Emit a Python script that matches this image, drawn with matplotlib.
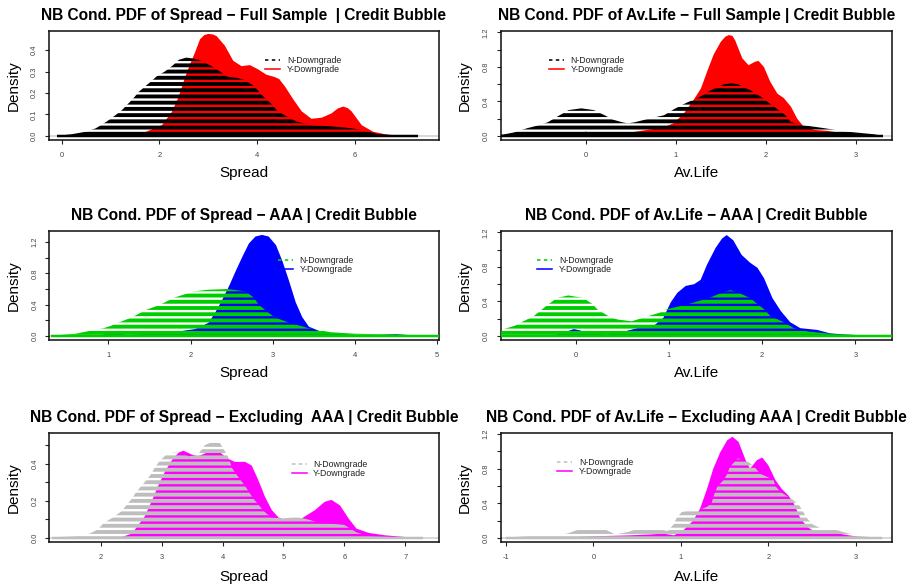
import matplotlib
matplotlib.use('Agg')
import matplotlib.pyplot as plt
from matplotlib.lines import Line2D

plt.rcParams['font.family'] = ['Liberation Sans', 'DejaVu Sans']
plt.rcParams['hatch.linewidth'] = 2.5

# ---------------- data ----------------
titles = [
    "NB Cond. PDF of Spread \u2212 Full Sample  | Credit Bubble",
    "NB Cond. PDF of Av.Life \u2212 Full Sample | Credit Bubble",
    "NB Cond. PDF of Spread \u2212 AAA | Credit Bubble",
    "NB Cond. PDF of Av.Life \u2212 AAA | Credit Bubble",
    "NB Cond. PDF of Spread \u2212 Excluding  AAA | Credit Bubble",
    "NB Cond. PDF of Av.Life \u2212 Excluding AAA | Credit Bubble",
]
xlabels = ["Spread", "Av.Life", "Spread", "Av.Life", "Spread", "Av.Life"]
legend_labels = ["N-Downgrade", "Y-Downgrade"]

# Panel 1: Spread, full sample
p1_n_x = [-0.1, 0.2, 0.5, 0.7, 0.92, 1.09, 1.23, 1.35, 1.47, 1.57, 1.70, 1.81, 1.94, 2.11, 2.28, 2.40, 2.55,
          2.70, 2.80, 3.03, 3.24, 3.40, 3.60, 3.75, 3.95, 4.06, 4.16, 4.30, 4.40, 4.57, 4.81, 5.10, 5.50, 5.93,
          6.20, 6.48, 6.90, 7.30]
p1_n_y = [0.0, 0.008, 0.02, 0.036, 0.067, 0.095, 0.12, 0.148, 0.176, 0.204, 0.23, 0.25, 0.277, 0.30, 0.33,
          0.355, 0.365, 0.36, 0.355, 0.33, 0.30, 0.275, 0.27, 0.26, 0.23, 0.20, 0.176, 0.148, 0.12, 0.095, 0.067,
          0.05, 0.045, 0.036, 0.025, 0.008, 0.003, 0.0]
p1_y_x = [0.05, 0.8, 1.36, 1.7, 2.05, 2.25, 2.39, 2.52, 2.62, 2.73, 2.83, 2.92, 3.0, 3.09, 3.17, 3.34, 3.51,
          3.68, 3.85, 4.02, 4.19, 4.35, 4.45, 4.57, 4.74, 4.91, 5.11, 5.32, 5.52, 5.65, 5.76, 5.85, 5.93, 6.14,
          6.37, 6.68, 7.09, 7.4]
p1_y_y = [0.0, 0.002, 0.005, 0.017, 0.05, 0.11, 0.18, 0.27, 0.33, 0.39, 0.45, 0.47, 0.475, 0.473, 0.465, 0.42,
          0.35, 0.325, 0.33, 0.31, 0.285, 0.275, 0.265, 0.23, 0.17, 0.115, 0.08, 0.085, 0.105, 0.128, 0.137,
          0.13, 0.115, 0.05, 0.02, 0.005, 0.001, 0.0]

# Panel 2: Av.Life, full sample
p2_n_x = [-0.95, -0.8, -0.65, -0.5, -0.42, -0.29, -0.19, -0.05, 0.09, 0.21, 0.3, 0.40, 0.47, 0.55, 0.7, 0.87,
          0.98, 1.11, 1.28, 1.39, 1.54, 1.62, 1.69, 1.83, 1.94, 2.04, 2.13, 2.22, 2.28, 2.45, 2.65, 2.9, 3.2, 3.3]
p2_n_y = [0.01, 0.04, 0.09, 0.13, 0.16, 0.24, 0.30, 0.32, 0.30, 0.24, 0.19, 0.16, 0.145, 0.16, 0.2, 0.24,
          0.31, 0.38, 0.46, 0.53, 0.6, 0.61, 0.6, 0.53, 0.46, 0.38, 0.31, 0.24, 0.16, 0.12, 0.09, 0.05, 0.02, 0.0]
p2_y_x = [-0.8, -0.3, -0.1, 0.0, 0.1, 0.31, 0.5, 0.68, 0.87, 0.98, 1.09, 1.2, 1.28, 1.35, 1.42, 1.5, 1.55,
          1.59, 1.63, 1.66, 1.74, 1.81, 1.88, 1.92, 1.98, 2.05, 2.13, 2.2, 2.28, 2.35, 2.42, 2.54, 2.68, 2.87,
          3.09, 3.24]
p2_y_y = [0.0, 0.005, 0.02, 0.05, 0.02, 0.01, 0.04, 0.07, 0.10, 0.15, 0.26, 0.42, 0.55, 0.75, 0.94, 1.09,
          1.15, 1.17, 1.16, 1.11, 0.90, 0.82, 0.86, 0.87, 0.80, 0.63, 0.49, 0.44, 0.34, 0.20, 0.11, 0.07, 0.06,
          0.03, 0.01, 0.0]

# Panel 3: Spread, AAA
p3_n_x = [0.3, 0.6, 0.94, 1.03, 1.12, 1.29, 1.45, 1.63, 1.80, 2.04, 2.2, 2.45, 2.67, 2.77, 2.83, 2.91, 3.02,
          3.2, 3.44, 3.7, 4.0, 4.5, 4.8, 5.02]
p3_n_y = [0.005, 0.03, 0.10, 0.13, 0.17, 0.24, 0.33, 0.40, 0.49, 0.57, 0.59, 0.60, 0.57, 0.49, 0.40, 0.33,
          0.24, 0.17, 0.10, 0.05, 0.03, 0.02, 0.01, 0.005]
p3_y_x = [0.84, 1.04, 1.24, 1.45, 1.65, 1.86, 2.06, 2.22, 2.3, 2.38, 2.47, 2.55, 2.63, 2.71, 2.79, 2.87, 2.95,
          3.04, 3.12, 3.2, 3.28, 3.36, 3.44, 3.6, 3.81, 4.09, 4.3, 4.5, 4.67, 4.9]
p3_y_y = [0.0, 0.04, 0.015, 0.025, 0.04, 0.06, 0.09, 0.17, 0.30, 0.45, 0.64, 0.83, 1.01, 1.18, 1.27, 1.29,
          1.27, 1.16, 0.95, 0.70, 0.43, 0.24, 0.12, 0.05, 0.025, 0.01, 0.015, 0.025, 0.01, 0.0]

# Panel 4: Av.Life, AAA
p4_n_x = [-0.8, -0.65, -0.58, -0.45, -0.36, -0.29, -0.2, -0.08, 0.08, 0.18, 0.23, 0.35, 0.45, 0.6, 0.78, 0.9,
          0.98, 1.21, 1.43, 1.59, 1.66, 1.73, 1.87, 1.95, 2.02, 2.09, 2.23, 2.34, 2.5, 2.8, 3.2, 3.39]
p4_n_y = [0.07, 0.12, 0.16, 0.23, 0.31, 0.37, 0.44, 0.47, 0.44, 0.37, 0.31, 0.23, 0.19, 0.17, 0.23, 0.27,
          0.31, 0.37, 0.44, 0.51, 0.53, 0.51, 0.44, 0.37, 0.31, 0.23, 0.16, 0.09, 0.05, 0.02, 0.005, 0.0]
p4_y_x = [-0.77, -0.4, -0.2, -0.1, -0.02, 0.06, 0.12, 0.34, 0.48, 0.66, 0.84, 0.94, 1.02, 1.09, 1.18, 1.27,
          1.34, 1.41, 1.5, 1.57, 1.62, 1.69, 1.78, 1.87, 1.95, 2.02, 2.11, 2.2, 2.3, 2.41, 2.59, 2.73, 2.91, 3.23]
p4_y_y = [0.0, 0.005, 0.015, 0.05, 0.08, 0.06, 0.03, 0.015, 0.04, 0.09, 0.12, 0.21, 0.39, 0.50, 0.58, 0.60,
          0.65, 0.83, 1.02, 1.13, 1.17, 1.11, 0.94, 0.85, 0.79, 0.67, 0.44, 0.29, 0.16, 0.09, 0.07, 0.03, 0.015,
          0.0]

# Panel 5: Spread, excluding AAA
p5_n_x = [1.2, 1.6, 1.8, 1.95, 2.05, 2.2, 2.35, 2.43, 2.51, 2.59, 2.67, 2.76, 2.84, 2.89, 2.97, 3.08, 3.2,
          3.33, 3.45, 3.6, 3.71, 3.85, 3.96, 4.07, 4.12, 4.15, 4.21, 4.29, 4.37, 4.43, 4.51, 4.59, 4.67, 4.8,
          5.0, 5.2, 5.4, 5.6, 5.85, 6.0, 6.1, 6.2, 6.4, 7.0, 7.3]
p5_n_y = [0.003, 0.01, 0.02, 0.045, 0.08, 0.11, 0.146, 0.18, 0.21, 0.25, 0.28, 0.315, 0.35, 0.38, 0.415,
          0.45, 0.46, 0.455, 0.44, 0.45, 0.50, 0.52, 0.51, 0.45, 0.415, 0.38, 0.35, 0.315, 0.28, 0.25, 0.21,
          0.18, 0.146, 0.11, 0.105, 0.115, 0.10, 0.08, 0.075, 0.07, 0.05, 0.03, 0.01, 0.002, 0.0]
p5_y_x = [2.35, 2.51, 2.62, 2.73, 2.84, 2.95, 3.06, 3.17, 3.28, 3.36, 3.49, 3.6, 3.71, 3.82, 3.93, 4.07, 4.2,
          4.37, 4.48, 4.59, 4.7, 4.81, 4.92, 5.08, 5.3, 5.52, 5.68, 5.79, 5.93, 6.07, 6.2, 6.4, 6.67, 7.0, 7.33]
p5_y_y = [0.005, 0.023, 0.07, 0.12, 0.20, 0.285, 0.36, 0.42, 0.46, 0.47, 0.45, 0.44, 0.455, 0.47, 0.47, 0.43,
          0.41, 0.41, 0.39, 0.31, 0.22, 0.15, 0.11, 0.09, 0.105, 0.15, 0.195, 0.205, 0.175, 0.105, 0.05, 0.027,
          0.014, 0.005, 0.0]

# Panel 6: Av.Life, excluding AAA
p6_n_x = [-1.0, -0.8, -0.5, -0.3, -0.19, -0.05, 0.15, 0.25, 0.4, 0.46, 0.6, 0.76, 0.85, 0.92, 0.95, 1.01,
          1.1, 1.2, 1.3, 1.35, 1.38, 1.42, 1.49, 1.53, 1.56, 1.65, 1.77, 1.85, 1.91, 2.0, 2.06, 2.08, 2.14,
          2.27, 2.35, 2.40, 2.44, 2.5, 2.6, 2.75, 2.85, 3.0, 3.2, 3.3]
p6_n_y = [0.0, 0.02, 0.03, 0.05, 0.09, 0.11, 0.09, 0.04, 0.07, 0.09, 0.11, 0.1, 0.08, 0.16, 0.23, 0.30,
          0.32, 0.32, 0.36, 0.40, 0.5, 0.6, 0.67, 0.74, 0.82, 0.92, 0.88, 0.81, 0.74, 0.70, 0.67, 0.6, 0.53,
          0.45, 0.38, 0.30, 0.23, 0.16, 0.11, 0.10, 0.07, 0.03, 0.005, 0.0]
p6_y_x = [-0.91, -0.34, 0.04, 0.42, 0.65, 0.8, 0.92, 1.03, 1.14, 1.22, 1.3, 1.37, 1.45, 1.53, 1.59, 1.66,
          1.74, 1.79, 1.87, 1.93, 2.0, 2.08, 2.15, 2.23, 2.29, 2.36, 2.44, 2.55, 2.71, 2.86, 3.05, 3.24]
p6_y_y = [0.0, 0.005, 0.02, 0.03, 0.04, 0.05, 0.03, 0.09, 0.20, 0.34, 0.57, 0.80, 0.99, 1.13, 1.17, 1.11,
          0.90, 0.80, 0.90, 0.93, 0.84, 0.67, 0.57, 0.49, 0.40, 0.24, 0.13, 0.06, 0.07, 0.04, 0.01, 0.0]

# tick positions and labels
p1_xticks = [0, 2, 4, 6]
p2_xticks = [0, 1, 2, 3]
p3_xticks = [1, 2, 3, 4, 5]
p4_xticks = [0, 1, 2, 3]
p5_xticks = [2, 3, 4, 5, 6, 7]
p6_xticks = [-1, 0, 1, 2, 3]
p1_yticks = [0.0, 0.1, 0.2, 0.3, 0.4]
p1_ylabels = ["0.0", "0.1", "0.2", "0.3", "0.4"]
big_yticks = [0.0, 0.2, 0.4, 0.6, 0.8, 1.0, 1.2]
big_ylabels = ["0.0", "", "0.4", "", "0.8", "", "1.2"]
p5_yticks = [0.0, 0.1, 0.2, 0.3, 0.4, 0.5]
p5_ylabels = ["0.0", "", "0.2", "", "0.4", ""]

# ---------------- styling / layout ----------------
n_colors = ["black", "black", "#00CD00", "#00CD00", "#BEBEBE", "#BEBEBE"]
y_colors = ["#FF0000", "#FF0000", "#0000FF", "#0000FF", "#FF00FF", "#FF00FF"]

W, H = 920, 588
DPI = 112
fig = plt.figure(figsize=(W / DPI, H / DPI), dpi=DPI)

# axes boxes in pixels: left, top, right, bottom
boxes = [(49, 31, 439, 140), (500.7, 31, 891.7, 140),
         (49.3, 231, 438.7, 340), (500.7, 231, 891.7, 340),
         (49.3, 432.7, 438.7, 542), (500.7, 432.7, 891.7, 542)]
xlims = [(-0.26, 7.72), (-0.945, 3.40), (0.281, 5.02), (-0.805, 3.39), (1.156, 7.55), (-1.06, 3.41)]
ylims = [(-0.0188, 0.4888), (-0.047, 1.217), (-0.05, 1.34), (-0.047, 1.217), (-0.022, 0.567), (-0.047, 1.217)]
legend_pos = [(0.554, 0.7725), (0.123, 0.7725), (0.587, 0.772), (0.093, 0.772), (0.622, 0.752), (0.144, 0.770)]
xlabel_y = [-0.24, -0.24, -0.24, -0.24, -0.255, -0.255]

panels = [
    (p1_n_x, p1_n_y, p1_y_x, p1_y_y, p1_xticks, p1_yticks, p1_ylabels),
    (p2_n_x, p2_n_y, p2_y_x, p2_y_y, p2_xticks, big_yticks, big_ylabels),
    (p3_n_x, p3_n_y, p3_y_x, p3_y_y, p3_xticks, big_yticks, big_ylabels),
    (p4_n_x, p4_n_y, p4_y_x, p4_y_y, p4_xticks, big_yticks, big_ylabels),
    (p5_n_x, p5_n_y, p5_y_x, p5_y_y, p5_xticks, p5_yticks, p5_ylabels),
    (p6_n_x, p6_n_y, p6_y_x, p6_y_y, p6_xticks, big_yticks, big_ylabels),
]

for i, (nx, ny, yx, yy, xt, yt, ytl) in enumerate(panels):
    l, t, r, b = boxes[i]
    ax = fig.add_axes([l / W, 1 - b / H, (r - l) / W, (b - t) / H])
    ax.axhline(0, color="#cfcfcf", lw=1, zorder=1)
    ax.fill_between(yx, yy, 0, facecolor=y_colors[i], edgecolor="none", lw=0, zorder=2)
    ax.fill_between(nx, ny, 0, facecolor="none", edgecolor=n_colors[i], hatch="---", lw=0, zorder=3)
    ax.plot([nx[0], nx[-1]], [0, 0], color=n_colors[i], lw=1.6, zorder=3, solid_capstyle="butt")
    ax.set_xlim(*xlims[i])
    ax.set_ylim(*ylims[i])
    ax.set_xticks(xt)
    ax.set_xticklabels([str(v) for v in xt])
    ax.set_yticks(yt)
    ax.set_yticklabels(ytl, rotation=90, va="center")
    ax.tick_params(axis="both", direction="out", length=2.6, width=0.7, colors="#222222",
                   labelsize=4.8, labelcolor="#444444")
    ax.tick_params(axis="x", pad=5.0)
    ax.tick_params(axis="y", pad=4.5)
    for s in ax.spines.values():
        s.set_linewidth(1.0)
        s.set_color("#111111")
    ax.set_title(titles[i], fontsize=10, fontweight="bold", pad=7)
    ax.set_xlabel(xlabels[i], fontsize=9.8)
    ax.xaxis.set_label_coords(0.5, xlabel_y[i])
    ax.set_ylabel("Density", fontsize=9.8)
    ax.yaxis.set_label_coords(-0.073, 0.5)
    handles = [Line2D([], [], color=n_colors[i], lw=1.0, ls=(0, (2.2, 2.2))),
               Line2D([], [], color=y_colors[i], lw=1.0)]
    leg = ax.legend(handles, legend_labels, loc="upper left", bbox_to_anchor=legend_pos[i],
                    frameon=False, fontsize=5.6, handlelength=1.75, handletextpad=0.75,
                    borderpad=0, borderaxespad=0, labelspacing=0.0)
    for txt in leg.get_texts():
        txt.set_color("#222222")

fig.savefig("out.png", dpi=DPI)
